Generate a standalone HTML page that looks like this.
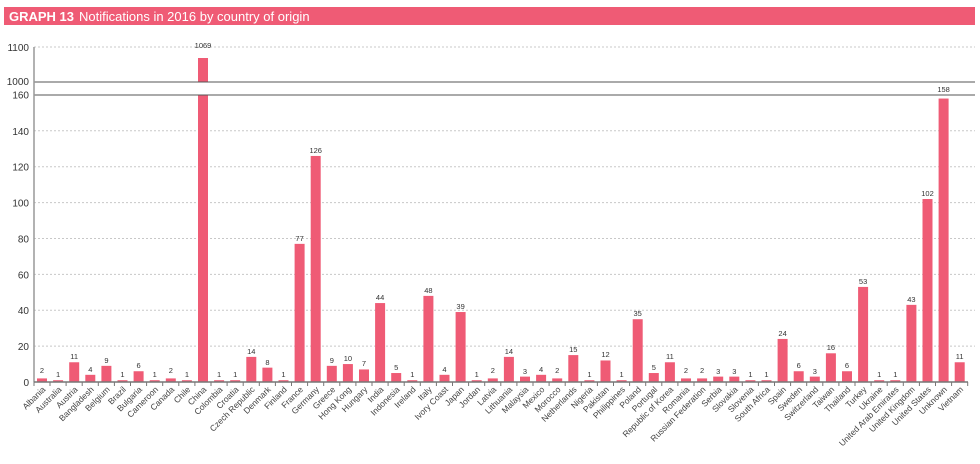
<!DOCTYPE html>
<html><head><meta charset="utf-8"><style>
body{margin:0;background:#fff;width:980px;height:459px;overflow:hidden;font-family:"Liberation Sans",sans-serif}
</style></head><body>
<svg width="980" height="459" viewBox="0 0 980 459" xmlns="http://www.w3.org/2000/svg" font-family="Liberation Sans, DejaVu Sans, sans-serif">
<rect x="4" y="7" width="971" height="18" fill="#ef5b75"/>
<text x="9" y="21" fill="#fff" font-size="13"><tspan font-weight="bold">GRAPH 13</tspan><tspan dx="5">Notifications in 2016 by country of origin</tspan></text>
<g stroke="#c8c8c8" stroke-dasharray="2,2" stroke-width="1">
<line x1="34" y1="47" x2="975" y2="47"/>
<line x1="34" y1="130.8" x2="975" y2="130.8"/>
<line x1="34" y1="166.7" x2="975" y2="166.7"/>
<line x1="34" y1="202.6" x2="975" y2="202.6"/>
<line x1="34" y1="238.5" x2="975" y2="238.5"/>
<line x1="34" y1="274.4" x2="975" y2="274.4"/>
<line x1="34" y1="310.2" x2="975" y2="310.2"/>
<line x1="34" y1="346.1" x2="975" y2="346.1"/>
</g>
<g fill="#ef5b75">
<rect x="198" y="58" width="10" height="24"/>
<g transform="translate(0,382) scale(1,-1.794)">
<rect x="37" y="0" width="10" height="2"/><rect x="53.1" y="0" width="10" height="1"/><rect x="69.2" y="0" width="10" height="11"/><rect x="85.3" y="0" width="10" height="4"/><rect x="101.4" y="0" width="10" height="9"/><rect x="117.5" y="0" width="10" height="1"/><rect x="133.6" y="0" width="10" height="6"/><rect x="149.7" y="0" width="10" height="1"/><rect x="165.8" y="0" width="10" height="2"/><rect x="181.9" y="0" width="10" height="1"/><rect x="198" y="0" width="10" height="160"/><rect x="214.1" y="0" width="10" height="1"/><rect x="230.2" y="0" width="10" height="1"/><rect x="246.3" y="0" width="10" height="14"/><rect x="262.4" y="0" width="10" height="8"/><rect x="278.5" y="0" width="10" height="1"/><rect x="294.6" y="0" width="10" height="77"/><rect x="310.7" y="0" width="10" height="126"/><rect x="326.8" y="0" width="10" height="9"/><rect x="342.9" y="0" width="10" height="10"/><rect x="359" y="0" width="10" height="7"/><rect x="375.1" y="0" width="10" height="44"/><rect x="391.2" y="0" width="10" height="5"/><rect x="407.3" y="0" width="10" height="1"/><rect x="423.4" y="0" width="10" height="48"/><rect x="439.5" y="0" width="10" height="4"/><rect x="455.6" y="0" width="10" height="39"/><rect x="471.7" y="0" width="10" height="1"/><rect x="487.8" y="0" width="10" height="2"/><rect x="503.9" y="0" width="10" height="14"/><rect x="520" y="0" width="10" height="3"/><rect x="536.1" y="0" width="10" height="4"/><rect x="552.2" y="0" width="10" height="2"/><rect x="568.3" y="0" width="10" height="15"/><rect x="584.4" y="0" width="10" height="1"/><rect x="600.5" y="0" width="10" height="12"/><rect x="616.6" y="0" width="10" height="1"/><rect x="632.7" y="0" width="10" height="35"/><rect x="648.8" y="0" width="10" height="5"/><rect x="664.9" y="0" width="10" height="11"/><rect x="681" y="0" width="10" height="2"/><rect x="697.1" y="0" width="10" height="2"/><rect x="713.2" y="0" width="10" height="3"/><rect x="729.3" y="0" width="10" height="3"/><rect x="745.4" y="0" width="10" height="1"/><rect x="761.5" y="0" width="10" height="1"/><rect x="777.6" y="0" width="10" height="24"/><rect x="793.7" y="0" width="10" height="6"/><rect x="809.8" y="0" width="10" height="3"/><rect x="825.9" y="0" width="10" height="16"/><rect x="842" y="0" width="10" height="6"/><rect x="858.1" y="0" width="10" height="53"/><rect x="874.2" y="0" width="10" height="1"/><rect x="890.3" y="0" width="10" height="1"/><rect x="906.4" y="0" width="10" height="43"/><rect x="922.5" y="0" width="10" height="102"/><rect x="938.6" y="0" width="10" height="158"/><rect x="954.7" y="0" width="10" height="11"/>
</g></g>
<line x1="34" y1="82" x2="975" y2="82" stroke="#555" stroke-width="1"/>
<line x1="34" y1="95" x2="975" y2="95" stroke="#555" stroke-width="1"/>
<line x1="34" y1="47" x2="34" y2="382" stroke="#999" stroke-width="1.5"/>
<line x1="34" y1="382" x2="968" y2="382" stroke="#777" stroke-width="1.5"/>
<g stroke="#777" stroke-width="1">
<path d="M34 382v4M50 382v4M66.1 382v4M82.2 382v4M98.3 382v4M114.4 382v4M130.5 382v4M146.6 382v4M162.7 382v4M178.8 382v4M194.9 382v4M211 382v4M227.1 382v4M243.2 382v4M259.3 382v4M275.4 382v4M291.5 382v4M307.6 382v4M323.7 382v4M339.8 382v4M355.9 382v4M372 382v4M388.1 382v4M404.2 382v4M420.3 382v4M436.4 382v4M452.5 382v4M468.6 382v4M484.7 382v4M500.8 382v4M516.9 382v4M533 382v4M549.1 382v4M565.2 382v4M581.3 382v4M597.4 382v4M613.5 382v4M629.6 382v4M645.7 382v4M661.8 382v4M677.9 382v4M694 382v4M710.1 382v4M726.2 382v4M742.3 382v4M758.4 382v4M774.5 382v4M790.6 382v4M806.7 382v4M822.8 382v4M838.9 382v4M855 382v4M871.1 382v4M887.2 382v4M903.3 382v4M919.4 382v4M935.5 382v4M951.6 382v4M967.7 382v4"/>
</g>
<g fill="#333" font-size="10" text-anchor="end">
<text x="29" y="51">1100</text><text x="29" y="85">1000</text><text x="29" y="98.5">160</text>
<text x="29" y="134.8">140</text><text x="29" y="170.7">120</text><text x="29" y="206.6">100</text>
<text x="29" y="242.5">80</text><text x="29" y="278.4">60</text><text x="29" y="314.2">40</text>
<text x="29" y="350.1">20</text><text x="29" y="386">0</text>
</g>
<g fill="#333" font-size="7.5" text-anchor="middle">
<text x="42" y="373">2</text><text x="58.1" y="377">1</text><text x="74.2" y="359">11</text><text x="90.3" y="372">4</text><text x="106.4" y="363">9</text><text x="122.5" y="377">1</text><text x="138.6" y="368">6</text><text x="154.7" y="377">1</text><text x="170.8" y="373">2</text><text x="186.9" y="377">1</text><text x="203" y="48">1069</text><text x="219.1" y="377">1</text><text x="235.2" y="377">1</text><text x="251.3" y="354">14</text><text x="267.4" y="365">8</text><text x="283.5" y="377">1</text><text x="299.6" y="241">77</text><text x="315.7" y="153">126</text><text x="331.8" y="363">9</text><text x="347.9" y="361">10</text><text x="364" y="366">7</text><text x="380.1" y="300">44</text><text x="396.2" y="370">5</text><text x="412.3" y="377">1</text><text x="428.4" y="293">48</text><text x="444.5" y="372">4</text><text x="460.6" y="309">39</text><text x="476.7" y="377">1</text><text x="492.8" y="373">2</text><text x="508.9" y="354">14</text><text x="525" y="374">3</text><text x="541.1" y="372">4</text><text x="557.2" y="373">2</text><text x="573.3" y="352">15</text><text x="589.4" y="377">1</text><text x="605.5" y="357">12</text><text x="621.6" y="377">1</text><text x="637.7" y="316">35</text><text x="653.8" y="370">5</text><text x="669.9" y="359">11</text><text x="686" y="373">2</text><text x="702.1" y="373">2</text><text x="718.2" y="374">3</text><text x="734.3" y="374">3</text><text x="750.4" y="377">1</text><text x="766.5" y="377">1</text><text x="782.6" y="336">24</text><text x="798.7" y="368">6</text><text x="814.8" y="374">3</text><text x="830.9" y="350">16</text><text x="847" y="368">6</text><text x="863.1" y="284">53</text><text x="879.2" y="377">1</text><text x="895.3" y="377">1</text><text x="911.4" y="302">43</text><text x="927.5" y="196">102</text><text x="943.6" y="92">158</text><text x="959.7" y="359">11</text>
</g>
<g fill="#444" font-size="8.5" text-anchor="end">
<text transform="translate(46,390) rotate(-45)">Albania</text><text transform="translate(62.1,390) rotate(-45)">Australia</text><text transform="translate(78.2,390) rotate(-45)">Austria</text><text transform="translate(94.3,390) rotate(-45)">Bangladesh</text><text transform="translate(110.4,390) rotate(-45)">Belgium</text><text transform="translate(126.5,390) rotate(-45)">Brazil</text><text transform="translate(142.6,390) rotate(-45)">Bulgaria</text><text transform="translate(158.7,390) rotate(-45)">Cameroon</text><text transform="translate(174.8,390) rotate(-45)">Canada</text><text transform="translate(190.9,390) rotate(-45)">Chile</text><text transform="translate(207,390) rotate(-45)">China</text><text transform="translate(223.1,390) rotate(-45)">Colombia</text><text transform="translate(239.2,390) rotate(-45)">Croatia</text><text transform="translate(255.3,390) rotate(-45)">Czech Republic</text><text transform="translate(271.4,390) rotate(-45)">Denmark</text><text transform="translate(287.5,390) rotate(-45)">Finland</text><text transform="translate(303.6,390) rotate(-45)">France</text><text transform="translate(319.7,390) rotate(-45)">Germany</text><text transform="translate(335.8,390) rotate(-45)">Greece</text><text transform="translate(351.9,390) rotate(-45)">Hong Kong</text><text transform="translate(368,390) rotate(-45)">Hungary</text><text transform="translate(384.1,390) rotate(-45)">India</text><text transform="translate(400.2,390) rotate(-45)">Indonesia</text><text transform="translate(416.3,390) rotate(-45)">Ireland</text><text transform="translate(432.4,390) rotate(-45)">Italy</text><text transform="translate(448.5,390) rotate(-45)">Ivory Coast</text><text transform="translate(464.6,390) rotate(-45)">Japan</text><text transform="translate(480.7,390) rotate(-45)">Jordan</text><text transform="translate(496.8,390) rotate(-45)">Latvia</text><text transform="translate(512.9,390) rotate(-45)">Lithuania</text><text transform="translate(529,390) rotate(-45)">Malaysia</text><text transform="translate(545.1,390) rotate(-45)">Mexico</text><text transform="translate(561.2,390) rotate(-45)">Morocco</text><text transform="translate(577.3,390) rotate(-45)">Netherlands</text><text transform="translate(593.4,390) rotate(-45)">Nigeria</text><text transform="translate(609.5,390) rotate(-45)">Pakistan</text><text transform="translate(625.6,390) rotate(-45)">Philippines</text><text transform="translate(641.7,390) rotate(-45)">Poland</text><text transform="translate(657.8,390) rotate(-45)">Portugal</text><text transform="translate(673.9,390) rotate(-45)">Republic of Korea</text><text transform="translate(690,390) rotate(-45)">Romania</text><text transform="translate(706.1,390) rotate(-45)">Russian Federation</text><text transform="translate(722.2,390) rotate(-45)">Serbia</text><text transform="translate(738.3,390) rotate(-45)">Slovakia</text><text transform="translate(754.4,390) rotate(-45)">Slovenia</text><text transform="translate(770.5,390) rotate(-45)">South Africa</text><text transform="translate(786.6,390) rotate(-45)">Spain</text><text transform="translate(802.7,390) rotate(-45)">Sweden</text><text transform="translate(818.8,390) rotate(-45)">Switzerland</text><text transform="translate(834.9,390) rotate(-45)">Taiwan</text><text transform="translate(851,390) rotate(-45)">Thailand</text><text transform="translate(867.1,390) rotate(-45)">Turkey</text><text transform="translate(883.2,390) rotate(-45)">Ukraine</text><text transform="translate(899.3,390) rotate(-45)">United Arab Emirates</text><text transform="translate(915.4,390) rotate(-45)">United Kingdom</text><text transform="translate(931.5,390) rotate(-45)">United States</text><text transform="translate(947.6,390) rotate(-45)">Unknown</text><text transform="translate(963.7,390) rotate(-45)">Vietnam</text>
</g>
</svg>
</body></html>
